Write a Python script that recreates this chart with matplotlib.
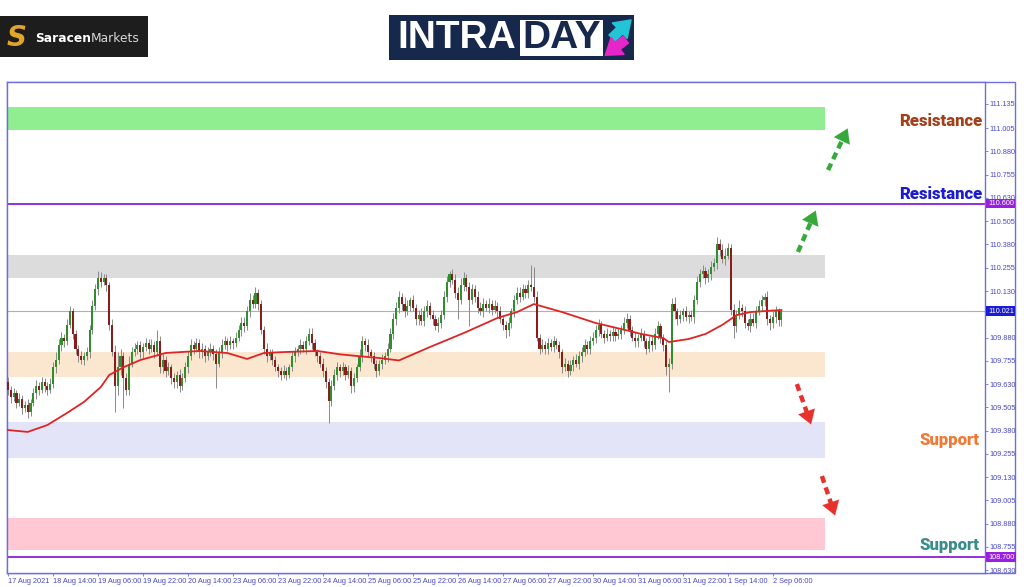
import numpy as np
import matplotlib.pyplot as plt
from matplotlib.patches import Rectangle

# hourly closes, 17 Aug 2021 22:00 .. 2 Sep 09:00
closes = [
    109.60, 109.56, 109.58, 109.53, 109.55, 109.50, 109.52, 109.48, 109.53, 109.58, 109.62, 109.60,
    109.64, 109.62, 109.60, 109.63, 109.72, 109.76, 109.84, 109.88, 109.86, 109.95, 110.02, 109.90,
    109.82, 109.78, 109.76, 109.78, 109.80, 109.92, 110.05, 110.14, 110.20, 110.18, 110.20, 110.16,
    109.95, 109.80, 109.62, 109.72, 109.78, 109.66, 109.60, 109.74, 109.80, 109.82, 109.84, 109.80,
    109.83, 109.85, 109.82, 109.84, 109.80, 109.86, 109.72, 109.76, 109.70, 109.72, 109.66, 109.64,
    109.68, 109.62, 109.66, 109.72, 109.78, 109.84, 109.82, 109.85, 109.80, 109.82, 109.78, 109.80,
    109.82, 109.79, 109.74, 109.80, 109.84, 109.86, 109.84, 109.86, 109.85, 109.88, 109.92, 109.96,
    109.94, 110.02, 110.08, 110.06, 110.12, 110.06, 109.92, 109.82, 109.78, 109.80, 109.76, 109.72,
    109.70, 109.68, 109.70, 109.68, 109.72, 109.78, 109.80, 109.82, 109.84, 109.82, 109.86, 109.90,
    109.85, 109.80, 109.78, 109.74, 109.70, 109.64, 109.54, 109.62, 109.68, 109.72, 109.70, 109.72,
    109.68, 109.70, 109.62, 109.66, 109.72, 109.78, 109.86, 109.84, 109.80, 109.78, 109.74, 109.70,
    109.74, 109.76, 109.78, 109.82, 109.90, 109.98, 110.04, 110.10, 110.06, 110.02, 110.05, 110.08,
    110.04, 109.98, 110.00, 109.97, 110.02, 110.05, 110.00, 109.98, 109.94, 109.96, 110.00, 110.10,
    110.18, 110.22, 110.19, 110.12, 110.08, 110.16, 110.20, 110.15, 110.08, 110.14, 110.10, 110.04,
    110.02, 110.06, 110.04, 110.06, 110.03, 110.05, 110.02, 109.98, 109.95, 109.92, 109.96, 110.02,
    110.08, 110.12, 110.10, 110.14, 110.12, 110.16, 110.15, 110.10, 109.88, 109.82, 109.84, 109.82,
    109.85, 109.83, 109.86, 109.84, 109.80, 109.72, 109.74, 109.70, 109.73, 109.76, 109.74, 109.78,
    109.80, 109.84, 109.82, 109.86, 109.88, 109.92, 109.95, 109.90, 109.88, 109.90, 109.89, 109.91,
    109.89, 109.90, 109.92, 109.96, 109.98, 109.92, 109.88, 109.86, 109.88, 109.90, 109.86, 109.82,
    109.86, 109.84, 109.90, 109.94, 109.88, 109.84, 109.72, 109.74, 110.06, 110.02, 109.98, 110.00,
    110.02, 109.99, 110.00, 109.99, 110.08, 110.18, 110.22, 110.24, 110.20, 110.22, 110.26, 110.28,
    110.38, 110.35, 110.30, 110.32, 110.36, 110.03, 109.94, 110.00, 110.04, 110.02, 109.96, 109.94,
    109.98, 109.96, 110.02, 110.05, 110.08, 110.10, 109.98, 109.96, 109.99, 110.02, 109.973, 110.021,
]
first_open = 109.64

# wick lengths above / below the body, in pips
up_pips = [
    3, 2, 3, 2, 3, 2, 2, 3, 2, 3, 3, 2,
    3, 2, 2, 3, 3, 4, 3, 3, 2, 3, 3, 2,
    2, 2, 3, 2, 3, 3, 3, 3, 4, 3, 2, 2,
    2, 3, 4, 8, 4, 2, 3, 4, 3, 3, 2, 2,
    2, 3, 2, 3, 2, 6, 3, 3, 2, 3, 2, 3,
    2, 3, 3, 3, 3, 3, 2, 3, 2, 3, 2, 3,
    3, 2, 3, 3, 3, 3, 2, 3, 2, 3, 3, 3,
    3, 3, 4, 3, 3, 2, 2, 2, 3, 2, 2, 2,
    2, 2, 3, 2, 2, 3, 3, 2, 3, 2, 3, 3,
    3, 2, 2, 2, 3, 2, 2, 3, 3, 3, 2, 3,
    2, 3, 2, 3, 2, 4, 3, 2, 3, 2, 2, 2,
    2, 3, 2, 3, 3, 3, 3, 3, 2, 4, 3, 2,
    3, 2, 3, 4, 3, 3, 2, 3, 2, 3, 3, 3,
    3, 2, 3, 3, 3, 4, 3, 2, 3, 3, 2, 3,
    3, 3, 2, 3, 2, 3, 2, 3, 2, 2, 3, 2,
    3, 3, 3, 3, 2, 3, 11, 11, 3, 2, 3, 2,
    3, 2, 3, 2, 2, 2, 3, 2, 3, 2, 3, 3,
    3, 3, 2, 3, 3, 3, 3, 2, 2, 3, 2, 3,
    2, 3, 3, 3, 3, 2, 2, 3, 2, 3, 2, 2,
    3, 3, 3, 3, 2, 2, 2, 3, 3, 4, 2, 3,
    2, 3, 2, 3, 3, 3, 3, 3, 2, 3, 3, 3,
    4, 3, 3, 4, 3, 2, 3, 3, 4, 2, 3, 2,
    3, 3, 3, 3, 3, 2, 3, 2, 3, 3, 2, 0,
]
dn_pips = [
    3, 3, 2, 3, 2, 3, 2, 3, 2, 2, 3, 3,
    2, 3, 3, 2, 2, 3, 2, 3, 3, 2, 2, 3,
    3, 3, 2, 3, 2, 3, 2, 2, 3, 3, 2, 3,
    3, 2, 14, 5, 4, 16, 3, 3, 2, 2, 3, 3,
    3, 2, 3, 2, 3, 2, 3, 3, 3, 2, 3, 3,
    3, 3, 2, 2, 3, 2, 3, 2, 3, 3, 3, 2,
    2, 3, 13, 2, 3, 2, 3, 2, 3, 2, 2, 3,
    3, 2, 3, 2, 2, 3, 2, 3, 3, 2, 3, 2,
    3, 3, 2, 3, 2, 2, 3, 2, 3, 2, 3, 2,
    3, 2, 3, 2, 3, 3, 12, 3, 2, 3, 3, 2,
    3, 2, 4, 3, 2, 2, 3, 3, 2, 3, 3, 3,
    2, 3, 2, 3, 2, 3, 3, 3, 3, 3, 2, 3,
    2, 3, 3, 2, 3, 3, 2, 3, 2, 3, 3, 2,
    3, 3, 2, 3, 10, 2, 3, 2, 14, 2, 3, 3,
    2, 3, 2, 3, 3, 2, 3, 2, 3, 4, 3, 3,
    3, 2, 3, 2, 3, 3, 2, 3, 2, 3, 2, 3,
    3, 2, 3, 2, 3, 3, 2, 3, 2, 3, 2, 3,
    3, 2, 3, 3, 2, 3, 3, 2, 3, 2, 3, 3,
    3, 2, 3, 2, 3, 3, 2, 3, 3, 2, 3, 3,
    2, 3, 2, 3, 3, 3, 4, 13, 3, 4, 3, 2,
    3, 2, 3, 2, 3, 2, 3, 2, 3, 2, 3, 2,
    3, 3, 2, 3, 2, 3, 6, 3, 2, 3, 3, 2,
    3, 2, 3, 2, 3, 3, 3, 4, 3, 3, 3, 3,
]

# moving average, read at some bars
ma_bar = [0, 7, 14, 21, 27, 33, 36, 41, 47, 56, 68, 78, 85, 91, 98, 110, 118, 124, 132,
          139, 150, 162, 174, 181, 187, 197, 209, 221, 225, 233, 235, 242, 248, 254, 259, 264, 275]
ma_val = [109.383, 109.373, 109.41, 109.475, 109.534, 109.614, 109.679, 109.72, 109.759,
          109.797, 109.808, 109.797, 109.765, 109.797, 109.802, 109.808, 109.79, 109.781,
          109.77, 109.757, 109.829, 109.904, 109.985, 110.017, 110.06, 110.017, 109.958,
          109.915, 109.90, 109.877, 109.856, 109.872, 109.899, 109.948, 110.0, 110.017, 110.028]

# zones
zone_lo = [110.995, 110.200, 109.668, 109.233, 108.738]
zone_hi = [111.119, 110.324, 109.802, 109.426, 108.910]
zone_col = ['#90ee90', '#dcdcdc', '#fbe7d0', '#e4e4f8', '#ffc8d3']
zone_end = 290.5

level_lines = [110.600, 108.700]
last_price = 110.021

time_ticks = [0, 16, 32, 48, 64, 80, 96, 112, 128, 144, 160, 176, 192, 208, 224, 240, 256, 272]
time_labels = ['17 Aug 2021', '18 Aug 14:00', '19 Aug 06:00', '19 Aug 22:00', '20 Aug 14:00',
               '23 Aug 06:00', '23 Aug 22:00', '24 Aug 14:00', '25 Aug 06:00', '25 Aug 22:00',
               '26 Aug 14:00', '27 Aug 06:00', '27 Aug 22:00', '30 Aug 14:00', '31 Aug 06:00',
               '31 Aug 22:00', '1 Sep 14:00', '2 Sep 06:00']
price_ticks = [111.135, 111.005, 110.880, 110.755, 110.630, 110.505, 110.380, 110.255, 110.130,
               109.880, 109.755, 109.630, 109.505, 109.380, 109.255, 109.130, 109.005,
               108.880, 108.755, 108.630]

c = np.array(closes)
o = np.array([first_open] + closes[:-1])
hi = np.maximum(o, c) + np.array(up_pips) / 100
lo = np.minimum(o, c) - np.array(dn_pips) / 100
idx = np.arange(len(c))

axis_col = '#6e6ee0'
tick_col = '#4848c8'
small = ['Liberation Sans', 'DejaVu Sans']

fig = plt.figure(figsize=(10.24, 5.87), dpi=100)
ax = fig.add_axes([7 / 1024, 14 / 587, 978 / 1024, 491 / 587])
ax.set_xlim(-0.36, 347.4)
ax.set_ylim(108.615, 111.253)

for l, h, col in zip(zone_lo, zone_hi, zone_col):
    ax.add_patch(Rectangle((-0.36, l), zone_end + 0.36, h - l, color=col, lw=0, zorder=1))

for v in level_lines:
    ax.axhline(v, color='#8c1fd6', lw=1.3, zorder=2)
ax.axhline(last_price, color='#b0b0b0', lw=0.8, zorder=2)

bull = c >= o
ax.vlines(idx, lo, hi, color='#8a8a8a', lw=0.7, zorder=3)
ax.bar(idx[bull], np.maximum(c - o, 0.004)[bull], bottom=o[bull], width=0.75,
       color='#2f8f2f', lw=0, zorder=4)
ax.bar(idx[~bull], (o - c)[~bull], bottom=c[~bull], width=0.75,
       color='#8b1c1c', lw=0, zorder=4)

ax.plot(ma_bar, ma_val, color='#e02424', lw=1.3, zorder=5)

# dashed arrows
arrows = [((280.9, 110.340), (287.6, 110.576), '#37a83a'),
          ((291.6, 110.780), (299.0, 111.017), '#37a83a'),
          ((280.5, 109.630), (285.9, 109.399), '#e8302c'),
          ((289.4, 109.136), (294.4, 108.910), '#e8302c')]
for (x0, y0), (x1, y1), col in arrows:
    xm, ym = x0 + 0.72 * (x1 - x0), y0 + 0.72 * (y1 - y0)
    ax.plot([x0, xm], [y0, ym], color=col, lw=3.2, linestyle=(0, (1.6, 1.1)),
            solid_capstyle='butt', dash_capstyle='butt', zorder=6)
    ax.annotate('', xy=(x1, y1), xytext=(x0 + 0.6 * (x1 - x0), y0 + 0.6 * (y1 - y0)),
                arrowprops=dict(arrowstyle='-|>,head_width=0.45,head_length=0.7',
                                color=col, lw=0.1, mutation_scale=14), zorder=6)

ax.text(346.3, 111.044, 'Resistance', color='#a2401a', fontsize=12, fontweight='heavy',
        family='Roboto', ha='right', va='center', zorder=7)
ax.text(346.3, 110.651, 'Resistance', color='#1c1cd0', fontsize=12, fontweight='heavy',
        family='Roboto', ha='right', va='center', zorder=7)
ax.text(345.6, 109.330, 'Support', color='#f07a35', fontsize=12, fontweight='heavy',
        family='Roboto', ha='right', va='center', zorder=7)
ax.text(345.6, 108.765, 'Support', color='#3a8d8b', fontsize=12, fontweight='heavy',
        family='Roboto', ha='right', va='center', zorder=7)

for s in ax.spines.values():
    s.set_color(axis_col)
    s.set_linewidth(1)
ax.yaxis.tick_right()
ax.set_yticks(price_ticks)
ax.set_yticklabels(['%.3f' % v for v in price_ticks], family=small)
ax.set_xticks(time_ticks)
ax.set_xticklabels(time_labels, ha='left', family=small)
ax.tick_params(axis='y', colors=axis_col, labelcolor=tick_col, labelsize=5.2,
               length=2, width=0.6, pad=1.5)
ax.tick_params(axis='x', colors=axis_col, labelcolor=tick_col, labelsize=5.3,
               length=2.5, width=0.6, pad=1.2)

yt = ax.get_yaxis_transform()
for v, bg in [(110.600, '#9a1ee0'), (last_price, '#1a1ad8'), (108.700, '#9a1ee0')]:
    ax.text(1.003, v, '%.3f' % v, transform=yt, fontsize=5.2, family=small, color='white',
            ha='left', va='center', clip_on=False, zorder=8,
            bbox=dict(boxstyle='square,pad=0.2', fc=bg, ec='none'))

# overlay in pixel coordinates for the header
ov = fig.add_axes([0, 0, 1, 1], zorder=-1)
ov.set_xlim(0, 1024)
ov.set_ylim(587, 0)
ov.axis('off')
ov.add_patch(Rectangle((7, 82), 1008, 491, fill=False, ec=axis_col, lw=1))
ov.text(11, 89, '\u25bc USDJPY,H1  109.973 110.021 109.945 110.021', fontsize=5.1,
        family=small, color='#22225a', va='center')

# Saracen Markets logo
ov.add_patch(Rectangle((0, 16), 148, 41, color='#1d1d1d', lw=0))
ov.text(17, 38, 'S', fontsize=20, fontweight='bold', style='italic', color='#e3a527',
        ha='center', va='center')
t1 = ov.text(35, 38, 'Saracen', fontsize=8.8, fontweight='bold', color='white', va='center')
ov.annotate('Markets', xy=(1, 0.5), xycoords=t1, fontsize=8.8, color='#d8d8d8',
            va='center', ha='left')

# INTRADAY logo
ov.add_patch(Rectangle((389, 15), 245, 45, color='#16294d', lw=0))
ov.add_patch(Rectangle((520, 20), 83, 36, color='white', lw=0))
ov.text(397, 38.5, 'INTRA', fontsize=28, fontweight='bold', family='Liberation Sans',
        color='white', va='center')
ov.text(522, 38.5, 'DAY', fontsize=28, fontweight='bold', family='Liberation Sans',
        color='#16294d', va='center')
ov.annotate('', xy=(633, 18), xytext=(610, 40),
            arrowprops=dict(arrowstyle='simple,head_width=1.1,head_length=0.8,tail_width=0.45',
                            color='#22c4d6', mutation_scale=14))
ov.annotate('', xy=(603, 57), xytext=(628, 38),
            arrowprops=dict(arrowstyle='simple,head_width=1.1,head_length=0.8,tail_width=0.45',
                            color='#e626c8', mutation_scale=14))

fig.savefig('out.png', dpi=100)
